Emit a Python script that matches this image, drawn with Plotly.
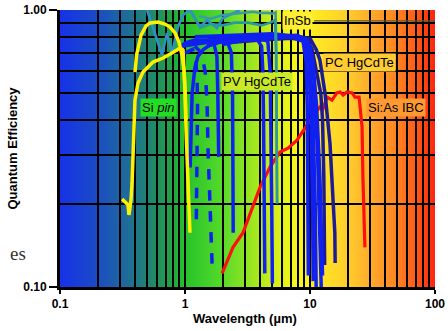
import numpy as np
import plotly.graph_objects as go

# ---------------- data ----------------
x_tick_vals = [0.1, 1, 10, 100]
x_tick_text = ["0.1", "1", "10", "100"]
y_tick_vals = [0.1, 1.0]
y_tick_text = ["0.10", "1.00"]
x_minor = [0.2, 0.3, 0.4, 0.5, 0.6, 0.7, 0.8, 0.9,
           2, 3, 4, 5, 6, 7, 8, 9,
           20, 30, 40, 50, 60, 70, 80, 90]
y_minor = [0.2, 0.3, 0.4, 0.5, 0.6, 0.7, 0.8, 0.9]

# Si pin (yellow)
sipin_a_wl = [0.398, 0.41, 0.445, 0.488, 0.525, 0.608, 0.692, 0.759, 0.832, 0.895, 0.946, 0.982, 1.0, 1.019]
sipin_a_qe = [0.597, 0.688, 0.812, 0.876, 0.898, 0.905, 0.89, 0.868, 0.826, 0.766, 0.688, 0.607, 0.52, 0.40]
sipin_b_wl = [0.314, 0.350, 0.356, 0.370, 0.377, 0.384, 0.398, 0.421, 0.461, 0.555, 0.667, 0.787, 0.912, 0.964, 1.0, 1.019, 1.038, 1.077, 1.096]
sipin_b_qe = [0.208, 0.198, 0.182, 0.206, 0.237, 0.312, 0.473, 0.545, 0.597, 0.649, 0.671, 0.699, 0.729, 0.717, 0.514, 0.369, 0.287, 0.206, 0.157]

# InSb / short-wave (teal)
jag_wl = [0.497, 0.597, 0.655, 0.718, 0.787, 0.879, 0.964, 1.096, 1.318, 1.50, 1.80, 2.01, 2.42, 2.75]
jag_qe = [1.0, 0.779, 0.688, 0.826, 0.699, 0.868, 0.959, 1.0, 0.868, 0.92, 0.861, 0.936, 0.976, 1.0]
insb_a_wl = [1.3, 1.6, 2.0, 2.5, 3.0, 3.5, 4.0, 4.6, 5.0, 5.3, 5.38, 5.42, 5.45]
insb_a_qe = [0.95, 0.93, 0.96, 0.97, 0.98, 0.985, 0.975, 0.976, 0.97, 0.98, 0.7, 0.4, 0.2]
insb_b_wl = [1.3, 1.6, 2.0, 2.5, 3.2, 4.1, 4.8, 5.25, 5.35, 5.42, 5.46]
insb_b_qe = [0.86, 0.89, 0.88, 0.90, 0.90, 0.88, 0.90, 0.92, 0.7, 0.4, 0.2]
insb_leader_wl = [10.8, 100]
insb_leader_qe = [0.913, 0.913]

# PV HgCdTe (blue)
pv_curves_wl = [
    [1.10, 1.12, 1.14, 1.20, 1.27, 1.40, 1.60, 1.90, 2.20, 2.35, 2.40, 2.42, 2.43],
    [0.93, 1.0, 1.2, 1.45, 1.7, 1.80, 1.83, 1.85, 1.86],
    [1.5, 2.0, 3.0, 3.8, 4.1, 4.2, 4.25, 4.3, 4.35],
    [2.0, 3.0, 4.0, 4.6, 4.8, 4.9, 4.95, 5.0],
    [1.0, 2, 4, 7, 8.8, 9.3, 9.5, 9.6, 9.7],
    [1.5, 3, 6, 9.0, 9.8, 10.2, 10.5, 10.6],
    [1.2, 2.5, 5, 8.5, 9.8, 10.5, 11.0, 11.2],
    [0.95, 2, 4, 8, 10.0, 10.8, 11.5, 12.0, 12.3],
    [1.3, 3, 7, 9.5, 10.5, 11.3, 12.0, 12.6],
]
pv_curves_qe = [
    [0.27, 0.35, 0.50, 0.62, 0.68, 0.72, 0.75, 0.77, 0.76, 0.70, 0.50, 0.25, 0.157],
    [0.74, 0.76, 0.78, 0.78, 0.76, 0.68, 0.50, 0.35, 0.295],
    [0.74, 0.77, 0.78, 0.78, 0.74, 0.60, 0.40, 0.20, 0.112],
    [0.75, 0.78, 0.79, 0.77, 0.60, 0.35, 0.18, 0.103],
    [0.76, 0.79, 0.80, 0.80, 0.77, 0.65, 0.45, 0.25, 0.11],
    [0.78, 0.80, 0.81, 0.79, 0.65, 0.40, 0.18, 0.105],
    [0.80, 0.81, 0.82, 0.80, 0.72, 0.45, 0.20, 0.10],
    [0.74, 0.78, 0.80, 0.81, 0.74, 0.55, 0.30, 0.15, 0.10],
    [0.76, 0.78, 0.80, 0.78, 0.66, 0.45, 0.25, 0.11],
]
pv_dash_wl = [
    [1.00, 1.15, 1.22, 1.25, 1.26, 1.255, 1.25, 1.24, 1.23],
    [1.2, 1.35, 1.45, 1.50, 1.53, 1.58, 1.65],
]
pv_dash_qe = [
    [0.70, 0.72, 0.66, 0.55, 0.45, 0.35, 0.27, 0.20, 0.165],
    [0.74, 0.70, 0.60, 0.47, 0.31, 0.206, 0.118],
]

# PC HgCdTe (navy)
pc_curves_wl = [
    [2.0, 4.0, 7.0, 9.5, 10.4, 11.1, 12.2, 12.6, 12.9, 13.1],
    [2.5, 5.0, 8.0, 10.0, 11.2, 12.0, 13.2, 14.45, 15.3, 15.8, 15.9],
]
pc_curves_qe = [
    [0.76, 0.78, 0.79, 0.78, 0.72, 0.62, 0.50, 0.40, 0.25, 0.12],
    [0.77, 0.79, 0.80, 0.79, 0.72, 0.66, 0.50, 0.33, 0.22, 0.157, 0.122],
]

# Si:As IBC (red)
sias_wl = [1.98, 2.42, 2.91, 3.98, 4.79, 5.75, 6.67, 7.87, 9.46, 10.96, 12.0, 12.6, 13.7, 15.0, 16.4, 17.4, 18.4, 19.8, 21.7, 22.9, 24.7, 26.1, 26.5, 27.5]
sias_qe = [0.112, 0.139, 0.157, 0.229, 0.271, 0.307, 0.317, 0.339, 0.384, 0.425, 0.446, 0.435, 0.485, 0.473, 0.502, 0.506, 0.493, 0.506, 0.502, 0.485, 0.485, 0.378, 0.249, 0.139]

# labels
label_text = ["InSb", "PV HgCdTe", "PC HgCdTe", "Si:As IBC", "Si <i>pin</i>"]
label_wl = [7.87, 3.80, 25.1, 48.8, 0.619]
label_qe = [0.92, 0.55, 0.649, 0.446, 0.446]
label_bg = ["#ffee33", "#c8e828", "#ffcc33", "#ff9a33", "#22dd22"]

# background spectrum colour stops (fraction across log axis, rgb)
bg_stops = [
    (0.00, (22, 50, 232)),
    (0.10, (26, 76, 196)),
    (0.17, (30, 104, 158)),
    (0.24, (32, 134, 112)),
    (0.30, (34, 164, 66)),
    (0.333, (38, 194, 44)),
    (0.43, (84, 218, 42)),
    (0.50, (145, 228, 34)),
    (0.57, (210, 238, 26)),
    (0.63, (248, 246, 30)),
    (0.667, (255, 238, 34)),
    (0.77, (255, 204, 44)),
    (0.83, (255, 170, 44)),
    (0.90, (255, 130, 34)),
    (0.95, (255, 90, 24)),
    (1.00, (255, 36, 14)),
]

# ---------------- figure ----------------
fig = go.Figure()

n_bands = 250
st = np.array([s[0] for s in bg_stops])
cols = np.array([s[1] for s in bg_stops], dtype=float)
shapes = []
for i in range(n_bands):
    t0 = i / n_bands
    t1 = (i + 1) / n_bands
    tm = (t0 + t1) / 2
    rgb = [int(round(np.interp(tm, st, cols[:, k]))) for k in range(3)]
    shapes.append(dict(type="rect", xref="paper", yref="paper",
                       x0=t0, x1=min(t1 + 0.002, 1.0), y0=0, y1=1,
                       fillcolor=f"rgb({rgb[0]},{rgb[1]},{rgb[2]})",
                       line=dict(width=0), layer="below"))

BLUE = "#1020f0"
NAVY = "#1c1c96"

def add_line(x, y, color, width=3.2, dash="solid"):
    fig.add_trace(go.Scatter(x=x, y=y, mode="lines",
                             line=dict(color=color, width=width, dash=dash, shape="linear"),
                             hoverinfo="skip", showlegend=False))

add_line(insb_leader_wl, insb_leader_qe, "#5a5a30", 1.3)
add_line(sias_wl, sias_qe, "#ff1010", 3.2)
for wl, qe in zip(pc_curves_wl, pc_curves_qe):
    add_line(wl, qe, NAVY, 3.5)
for wl, qe in zip(pv_curves_wl, pv_curves_qe):
    add_line(wl, qe, BLUE, 3.5)
for wl, qe in zip(pv_dash_wl, pv_dash_qe):
    add_line(wl, qe, BLUE, 3.5, dash="dash")
add_line(jag_wl, jag_qe, "#3090c4", 2.6)
add_line(insb_a_wl, insb_a_qe, "#3a9ca8", 2.6)
add_line(insb_b_wl, insb_b_qe, "#2a9aa0", 2.6)
add_line(sipin_a_wl, sipin_a_qe, "#fff000", 3.5)
add_line(sipin_b_wl, sipin_b_qe, "#fff000", 3.5)

annotations = []
for txt, wl, qe, bg in zip(label_text, label_wl, label_qe, label_bg):
    annotations.append(dict(x=np.log10(wl), y=np.log10(qe), xref="x", yref="y",
                            text=txt, showarrow=False, bgcolor=bg, borderpad=1,
                            font=dict(family="Liberation Sans, Arial", size=13, color="black")))
annotations.append(dict(x=(18 - 60) / 375, y=(287 - 253) / 277, xref="paper", yref="paper",
                        xanchor="center", yanchor="middle",
                        text="es", showarrow=False,
                        font=dict(family="Liberation Serif, Times New Roman", size=19, color="#333333")))
annotations.append(dict(x=(12 - 60) / 375, y=0.5, xref="paper", yref="paper",
                        xanchor="center", yanchor="middle",
                        text="<b>Quantum Efficiency</b>", showarrow=False, textangle=-90,
                        font=dict(family="Liberation Sans, Arial", size=13, color="black")))
annotations.append(dict(x=(245 - 60) / 375, y=-(318 - 287) / 277, xref="paper", yref="paper",
                        xanchor="center", yanchor="middle",
                        text="<b>Wavelength (µm)</b>", showarrow=False,
                        font=dict(family="Liberation Sans, Arial", size=13, color="black")))

tickfont = dict(family="Liberation Sans, Arial", size=12, color="black", weight="bold")

fig.update_layout(
    width=448, height=331,
    margin=dict(l=60, r=13, t=10, b=44),
    paper_bgcolor="white",
    plot_bgcolor="white",
    shapes=shapes,
    annotations=annotations,
    showlegend=False,
    xaxis=dict(type="log", range=[-1, 2], automargin=False,
               tickmode="array", tickvals=x_tick_vals, ticktext=x_tick_text,
               showgrid=True, gridcolor="black", gridwidth=2.4,
               minor=dict(tickmode="array", tickvals=x_minor, showgrid=True,
                          gridcolor="black", gridwidth=1.7, ticks=""),
               showline=True, linecolor="black", linewidth=3,
               ticks="outside", ticklen=4, tickcolor="black", tickwidth=2,
               tickfont=tickfont, zeroline=False),
    yaxis=dict(type="log", range=[-1, 0], automargin=False,
               tickmode="array", tickvals=y_tick_vals, ticktext=y_tick_text,
               showgrid=True, gridcolor="black", gridwidth=2.2,
               minor=dict(tickmode="array", tickvals=y_minor, showgrid=True,
                          gridcolor="black", gridwidth=1.7, ticks=""),
               showline=True, linecolor="black", linewidth=3,
               ticks="outside", ticklen=8, tickcolor="black", tickwidth=2,
               tickfont=tickfont, zeroline=False),
)

fig.write_html("out.html")
